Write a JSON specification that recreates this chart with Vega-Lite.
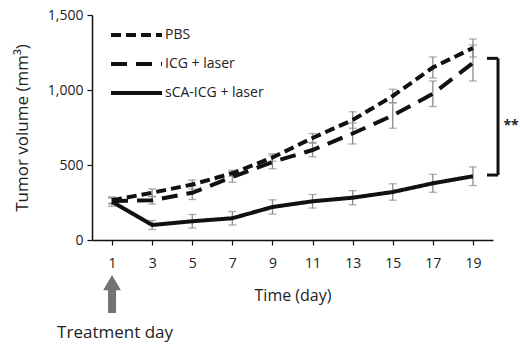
{
  "$schema": "https://vega.github.io/schema/vega-lite/v6.json",
  "width": 401,
  "height": 225,
  "autosize": {"type": "none"},
  "padding": {"left": 92, "top": 15, "right": 27, "bottom": 107},
  "background": "white",
  "config": {
    "view": {"stroke": null},
    "font": "Open Sans",
    "axis": {"grid": false, "domainColor": "#111", "tickColor": "#111", "domainWidth": 1.5, "tickWidth": 1.2, "tickSize": 5, "labelColor": "#222", "titleColor": "#222", "labelFontSize": 14, "titleFontSize": 16, "titleFontWeight": "normal"},
    "legend": {"labelFontSize": 14, "labelColor": "#222"}
  },
  "datasets": {
    "main": [
      {"series": "PBS", "day": 1, "value": 265, "err": 20},
      {"series": "PBS", "day": 3, "value": 315, "err": 25},
      {"series": "PBS", "day": 5, "value": 370, "err": 30},
      {"series": "PBS", "day": 7, "value": 445, "err": 20},
      {"series": "PBS", "day": 9, "value": 550, "err": 25},
      {"series": "PBS", "day": 11, "value": 680, "err": 30},
      {"series": "PBS", "day": 13, "value": 800, "err": 55},
      {"series": "PBS", "day": 15, "value": 960, "err": 45},
      {"series": "PBS", "day": 17, "value": 1150, "err": 70},
      {"series": "PBS", "day": 19, "value": 1280, "err": 60},
      {"series": "ICG + laser", "day": 1, "value": 260, "err": 20},
      {"series": "ICG + laser", "day": 3, "value": 265, "err": 25},
      {"series": "ICG + laser", "day": 5, "value": 315, "err": 45},
      {"series": "ICG + laser", "day": 7, "value": 420, "err": 35},
      {"series": "ICG + laser", "day": 9, "value": 520, "err": 45},
      {"series": "ICG + laser", "day": 11, "value": 600, "err": 45},
      {"series": "ICG + laser", "day": 13, "value": 710, "err": 70},
      {"series": "ICG + laser", "day": 15, "value": 830, "err": 85},
      {"series": "ICG + laser", "day": 17, "value": 975, "err": 85},
      {"series": "ICG + laser", "day": 19, "value": 1180, "err": 120},
      {"series": "sCA-ICG + laser", "day": 1, "value": 255, "err": 30},
      {"series": "sCA-ICG + laser", "day": 3, "value": 100, "err": 30},
      {"series": "sCA-ICG + laser", "day": 5, "value": 125, "err": 45},
      {"series": "sCA-ICG + laser", "day": 7, "value": 145, "err": 45},
      {"series": "sCA-ICG + laser", "day": 9, "value": 220, "err": 48},
      {"series": "sCA-ICG + laser", "day": 11, "value": 258, "err": 45},
      {"series": "sCA-ICG + laser", "day": 13, "value": 282, "err": 47},
      {"series": "sCA-ICG + laser", "day": 15, "value": 320, "err": 55},
      {"series": "sCA-ICG + laser", "day": 17, "value": 378, "err": 60},
      {"series": "sCA-ICG + laser", "day": 19, "value": 425, "err": 62}
    ],
    "bracket": [
      {"x": 20.25, "x2": 20.25, "y": 433, "y2": 1211},
      {"x": 19.7, "x2": 20.25, "y": 1211, "y2": 1211},
      {"x": 19.7, "x2": 20.25, "y": 433, "y2": 433}
    ],
    "notes": [
      {"x": 20.9, "y": 760, "label": "**"}
    ],
    "arrow": [
      {"x": 1, "y": -360}
    ],
    "arrowLabel": [
      {"x": 1.15, "y": -620, "label": "Treatment day"}
    ]
  },
  "layer": [
    {
      "data": {"name": "main"},
      "transform": [
        {"calculate": "datum.value - datum.err", "as": "lo"},
        {"calculate": "datum.value + datum.err", "as": "hi"}
      ],
      "layer": [
        {
          "mark": {"type": "rule", "color": "#8a8a8a", "strokeWidth": 1.3},
          "encoding": {
            "x": {"field": "day", "type": "quantitative",
              "scale": {"domain": [0, 20], "nice": false},
              "axis": {"values": [1, 3, 5, 7, 9, 11, 13, 15, 17, 19], "title": "Time (day)", "labelPadding": 11, "titlePadding": 17}},
            "y": {"field": "lo", "type": "quantitative",
              "scale": {"domain": [0, 1500], "nice": false},
              "axis": {"values": [0, 500, 1000, 1500], "format": ",.0f", "title": "Tumor volume (mm³)", "titleFontSize": 17, "labelPadding": 4, "titlePadding": 16}},
            "y2": {"field": "hi"}
          }
        },
        {
          "mark": {"type": "tick", "color": "#8a8a8a", "orient": "horizontal", "size": 8, "thickness": 1.3},
          "encoding": {
            "x": {"field": "day", "type": "quantitative"},
            "y": {"field": "lo", "type": "quantitative"}
          }
        },
        {
          "mark": {"type": "tick", "color": "#8a8a8a", "orient": "horizontal", "size": 8, "thickness": 1.3},
          "encoding": {
            "x": {"field": "day", "type": "quantitative"},
            "y": {"field": "hi", "type": "quantitative"}
          }
        }
      ]
    },
    {
      "data": {"name": "main"},
      "mark": {"type": "line", "color": "#111", "strokeWidth": 4},
      "encoding": {
        "x": {"field": "day", "type": "quantitative"},
        "y": {"field": "value", "type": "quantitative"},
        "strokeDash": {
          "field": "series", "type": "nominal",
          "scale": {"domain": ["PBS", "ICG + laser", "sCA-ICG + laser"], "range": [[10, 5], [16, 9], [1, 0]]},
          "legend": {"title": null, "orient": "none", "legendX": 17, "legendY": 7.5, "columns": 1, "clipHeight": 25, "symbolType": "stroke", "symbolSize": 2601, "symbolStrokeWidth": 4, "symbolStrokeColor": "#111", "rowPadding": 4, "labelOffset": 1}
        }
      }
    },
    {
      "data": {"name": "bracket"},
      "mark": {"type": "rule", "color": "#111", "strokeWidth": 3, "clip": false},
      "encoding": {
        "x": {"field": "x", "type": "quantitative"},
        "x2": {"field": "x2"},
        "y": {"field": "y", "type": "quantitative"},
        "y2": {"field": "y2"}
      }
    },
    {
      "data": {"name": "notes"},
      "mark": {"type": "text", "fontSize": 14, "fontWeight": "bold", "color": "#222", "align": "center", "baseline": "middle", "clip": false},
      "encoding": {
        "x": {"field": "x", "type": "quantitative"},
        "y": {"field": "y", "type": "quantitative"},
        "text": {"field": "label"}
      }
    },
    {
      "data": {"name": "arrow"},
      "mark": {"type": "point", "shape": "M0,-1L0.47,-0.2L0.21,-0.2L0.21,1L-0.21,1L-0.21,-0.2L-0.47,-0.2Z", "size": 1444, "filled": true, "color": "#707570", "opacity": 1, "strokeWidth": 0, "clip": false},
      "encoding": {
        "x": {"field": "x", "type": "quantitative"},
        "y": {"field": "y", "type": "quantitative"}
      }
    },
    {
      "data": {"name": "arrowLabel"},
      "mark": {"type": "text", "fontSize": 17, "color": "#222", "align": "center", "baseline": "middle", "clip": false},
      "encoding": {
        "x": {"field": "x", "type": "quantitative"},
        "y": {"field": "y", "type": "quantitative"},
        "text": {"field": "label"}
      }
    }
  ]
}
